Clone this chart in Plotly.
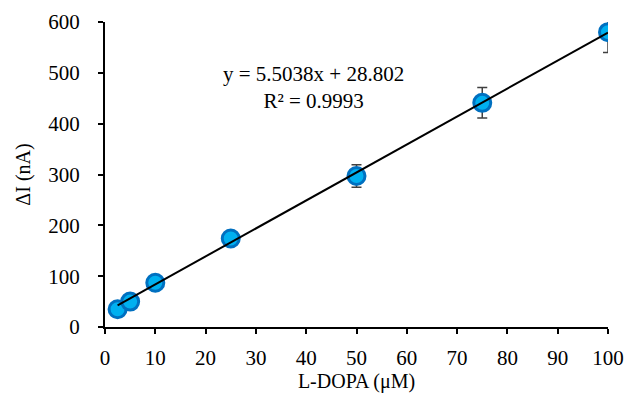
import plotly.graph_objects as go

# L-DOPA calibration data
conc_uM = [2.5, 5, 10, 25, 50, 75, 100]
delta_i_nA = [35, 50, 87, 174, 297, 441, 580]
err_nA = [3, 4, 5, 6, 22, 30, 40]

slope = 5.5038
intercept = 28.802
r_squared = 0.9993

x_ticks = list(range(0, 101, 10))
y_ticks = list(range(0, 601, 100))

fit_x = [min(conc_uM), max(conc_uM)]
fit_y = [slope * v + intercept for v in fit_x]

serif = "Liberation Serif"

fig = go.Figure()

fig.add_trace(go.Scatter(
    x=conc_uM, y=delta_i_nA,
    mode="markers",
    marker=dict(size=17, color="#00B0F0", line=dict(color="#0070C0", width=3)),
    error_y=dict(type="data", array=err_nA, visible=True,
                 color="#404040", thickness=1.5, width=5),
    showlegend=False,
))

fig.add_trace(go.Scatter(
    x=fit_x, y=fit_y,
    mode="lines",
    line=dict(color="black", width=2),
    showlegend=False,
))

fig.add_annotation(
    x=41.4, y=472, xref="x", yref="y",
    text=f"y = {slope}x + {intercept}<br>R² = {r_squared}",
    showarrow=False,
    font=dict(family=serif, size=21, color="black"),
    align="center",
)

fig.update_layout(
    width=630, height=396,
    margin=dict(l=105, r=22, t=22, b=69),
    paper_bgcolor="white",
    plot_bgcolor="white",
    font=dict(family=serif, size=20, color="black"),
)

fig.update_xaxes(
    range=[0, 100],
    tickvals=x_ticks,
    tickfont=dict(family=serif, size=21),
    ticklabelstandoff=6,
    automargin=False,
    showline=True, linecolor="black", linewidth=2,
    ticks="outside", ticklen=5, tickwidth=2, tickcolor="black",
    showgrid=False, zeroline=False,
    title=dict(text="L-DOPA (μM)", standoff=2, font=dict(family=serif, size=20)),
)

fig.update_yaxes(
    range=[0, 600],
    tickvals=y_ticks,
    tickfont=dict(family=serif, size=21),
    ticklabelstandoff=14,
    automargin=False,
    showline=True, linecolor="black", linewidth=2,
    ticks="outside", ticklen=5, tickwidth=2, tickcolor="black",
    showgrid=False, zeroline=False,
    title=dict(text="ΔI (nA)", standoff=12, font=dict(family=serif, size=20)),
)

fig.write_html("out.html")
